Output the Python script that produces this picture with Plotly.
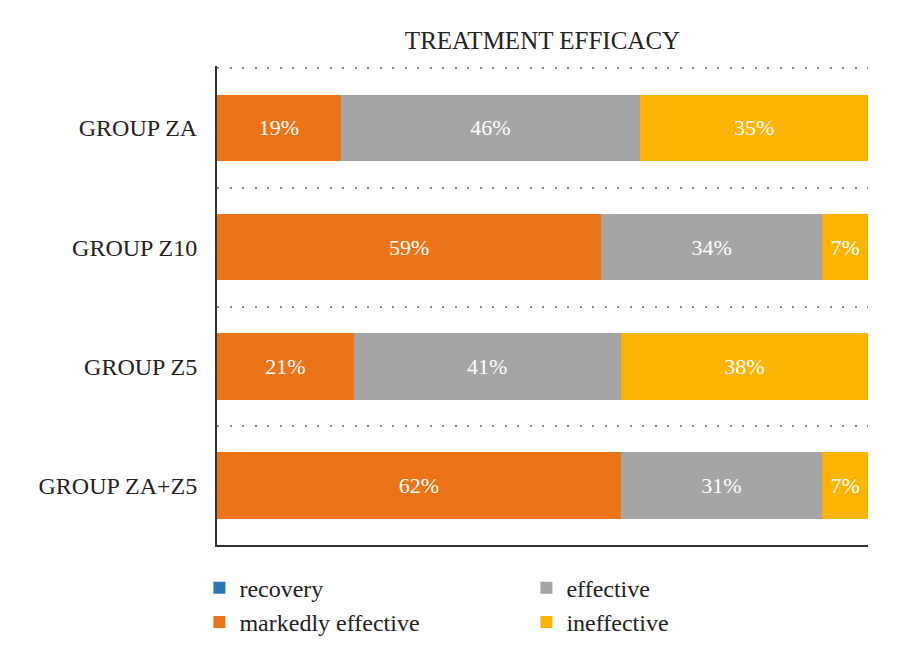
import plotly.graph_objects as go

groups = ["GROUP ZA", "GROUP Z10", "GROUP Z5", "GROUP ZA+Z5"]
recovery = [0, 0, 0, 0]
markedly = [19, 59, 21, 62]
effective = [46, 34, 41, 31]
ineffective = [35, 7, 38, 7]

colors = {
    "recovery": "#2E75B6",
    "markedly effective": "#EC7418",
    "effective": "#A5A5A5",
    "ineffective": "#FBB404",
}
font_family = "Liberation Serif"
ypos = list(range(len(groups)))

fig = go.Figure()
series = [
    ("recovery", recovery, 1, False),
    ("markedly effective", markedly, 3, True),
    ("effective", effective, 2, True),
    ("ineffective", ineffective, 4, True),
]
for name, vals, rank, show_text in series:
    tf = dict(color="white", size=22, family=font_family)
    fig.add_trace(go.Bar(
        y=ypos, x=vals, name=name, orientation="h",
        marker=dict(color=colors[name], line=dict(width=0)),
        width=0.56,
        text=[f"{v}%" for v in vals] if show_text else None,
        textposition="inside" if show_text else "none",
        insidetextanchor="middle",
        textangle=0,
        textfont=tf,
        insidetextfont=tf,
        constraintext="none",
        legendrank=rank,
        hoverinfo="x+name",
    ))

fig.update_layout(
    barmode="stack",
    width=900, height=668,
    margin=dict(l=217, r=32, t=66, b=123, autoexpand=False),
    paper_bgcolor="white", plot_bgcolor="white",
    font=dict(family=font_family, color="#222222", size=24),
    title=dict(text="TREATMENT EFFICACY", x=542.5 / 900, xanchor="center",
               y=1 - 40 / 668, yanchor="middle",
               font=dict(size=25, family=font_family, color="#222222")),
    showlegend=True,
    legend=dict(orientation="h", x=-0.027, xanchor="left",
                y=-0.043, yanchor="top", traceorder="normal",
                entrywidth=282, entrywidthmode="pixels",
                font=dict(size=24, family=font_family, color="#222222"),
                itemsizing="constant", tracegroupgap=0),
)
fig.update_xaxes(range=[0, 100], showgrid=False, zeroline=False, showticklabels=False,
                 showline=True, linecolor="#333333", linewidth=2, ticks="", fixedrange=True)
fig.update_yaxes(range=[3.5, -0.52], tickmode="array", tickvals=ypos, ticktext=groups,
                 showgrid=False, zeroline=False, showline=True, linecolor="#333333",
                 linewidth=2, ticks="", ticklabelstandoff=13, automargin=False,
                 tickfont=dict(size=24, family=font_family, color="#222222"),
                 minor=dict(tick0=-0.5, dtick=1, showgrid=True, gridcolor="#8a8a8a",
                            gridwidth=2, griddash="2px,10.5px", ticks=""))
fig.write_html("out.html", config={"displayModeBar": False},
               post_script="document.body.style.margin='0';document.body.style.padding='0';")
